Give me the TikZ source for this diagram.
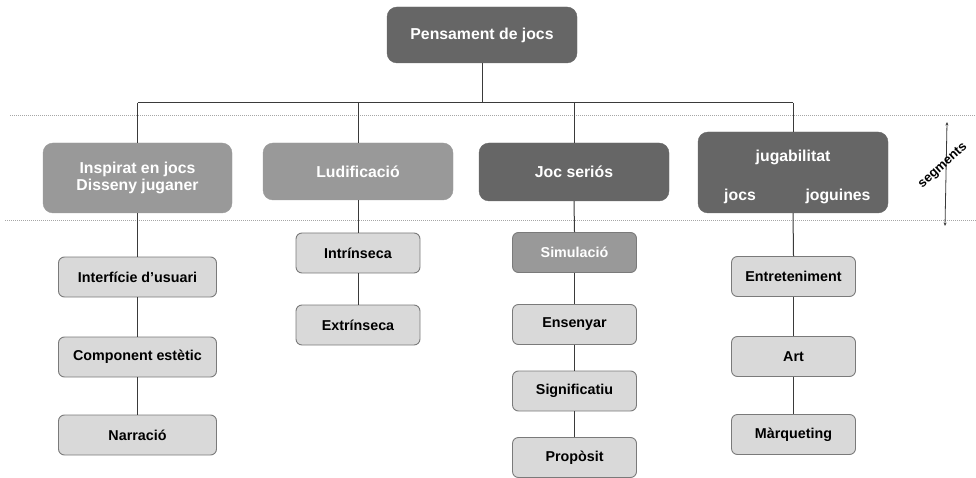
\documentclass[tikz,border=0pt]{standalone}
\usepackage{fontspec}
\setmainfont{Liberation Sans}
\usetikzlibrary{arrows.meta}
\definecolor{darkbox}{HTML}{666666}
\definecolor{midbox}{HTML}{999999}
\definecolor{leafbox}{HTML}{D9D9D9}
\definecolor{leafline}{HTML}{7A7A7A}
\definecolor{conn}{HTML}{3A3A3A}
\tikzset{
  headbox/.style={rounded corners=10pt, draw=#1, fill=#1, text=white, font=\fontsize{15.8}{17.5}\selectfont\bfseries, align=center, inner sep=0pt},
  leafbox/.style={rounded corners=6pt, draw=leafline, line width=0.9pt, fill=leafbox, text=black, font=\fontsize{14.3}{16}\selectfont\bfseries, align=center, inner sep=0pt, minimum width=124pt, minimum height=40pt},
  simbox/.style={leafbox, fill=midbox, text=white},
  conn/.style={draw=conn, line width=1pt},
  guide/.style={draw=gray!70, line width=0.8pt, dash pattern=on 1pt off 1pt},
  whitetext/.style={text=white, font=\fontsize{15.8}{17.5}\selectfont\bfseries, inner sep=0pt}
}
\begin{document}
\begin{tikzpicture}[x=1pt,y=-1pt]
\useasboundingbox (0,0) rectangle (976,478);
% guides
\coordinate (g1a) at (10,115); \coordinate (g1b) at (976,115);
\coordinate (g2a) at (5,220); \coordinate (g2b) at (976,220);
\draw[guide] (g1a) -- (g1b);
\draw[guide] (g2a) -- (g2b);
% top
\node[headbox=darkbox, minimum width=190pt, minimum height=56pt] (top) at (482,35) {Pensament de jocs};
% level 1
\node[headbox=midbox, minimum width=189pt, minimum height=70pt] (insp) at (137.5,178) {Inspirat en jocs\\Disseny juganer};
\node[headbox=midbox, minimum width=190pt, minimum height=57pt] (ludi) at (358,171.5) {Ludificació};
\node[headbox=darkbox, minimum width=190pt, minimum height=58pt] (serio) at (574,172) {Joc seriós};
\node[headbox=darkbox, minimum width=190pt, minimum height=81pt] (juga) at (793,172.5) {};
\node[whitetext] (jugat) at (793,157) {jugabilitat};
\node[whitetext] (jocs) at (740,196) {jocs};
\node[whitetext] (jogu) at (838,196) {joguines};
% tree connectors
\coordinate (hub) at (482,103);
\coordinate (h1) at (137.5,103);
\coordinate (h2) at (358,103);
\coordinate (h3) at (574,103);
\coordinate (h4) at (793,103);
\draw[conn] (top.south) -- (hub);
\draw[conn] (h1) -- (h4);
\draw[conn] (h1) -- (insp.north);
\draw[conn] (h2) -- (ludi.north);
\draw[conn] (h3) -- (serio.north);
\draw[conn] (h4) -- (juga.north);
% leaves column 1
\node[leafbox, minimum width=158pt] (l11) at (137.5,277) {Interfície d’usuari};
\node[leafbox, minimum width=158pt] (l12) at (137.5,357) {Component estètic};
\node[leafbox, minimum width=158pt] (l13) at (137.5,435) {Narració};
% column 2
\node[leafbox] (l21) at (358,253) {Intrínseca};
\node[leafbox] (l22) at (358,325) {Extrínseca};
% column 3
\node[simbox] (l31) at (574.5,252.5) {Simulació};
\node[leafbox] (l32) at (574.5,324.5) {Ensenyar};
\node[leafbox] (l33) at (574.5,391) {Significatiu};
\node[leafbox] (l34) at (574.5,457.5) {Propòsit};
% column 4
\node[leafbox] (l41) at (793.5,276.5) {Entreteniment};
\node[leafbox] (l42) at (793.5,356.5) {Art};
\node[leafbox] (l43) at (793.5,434.5) {Màrqueting};
% leaf connectors
\draw[conn] (insp.south) -- (l11.north);
\draw[conn] (l11) -- (l12);
\draw[conn] (l12) -- (l13);
\draw[conn] (ludi.south) -- (l21.north);
\draw[conn] (l21) -- (l22);
\draw[conn] (serio.south) -- (l31.north);
\draw[conn] (l31) -- (l32);
\draw[conn] (l32) -- (l33);
\draw[conn] (l33) -- (l34);
\draw[conn] (juga.south) -- (l41.north);
\draw[conn] (l41) -- (l42);
\draw[conn] (l42) -- (l43);
% segments marker
\coordinate (sa) at (947,122);
\coordinate (sb) at (945,226);
\draw[draw=conn, line width=0.8pt, {Stealth[length=3.5pt,width=3pt]}-{Stealth[length=3.5pt,width=3pt]}] (sa) -- (sb);
\node[rotate=42, font=\fontsize{13}{15}\selectfont\bfseries, text=black, inner sep=0pt] (seg) at (943,166) {segments};
\end{tikzpicture}
\end{document}
